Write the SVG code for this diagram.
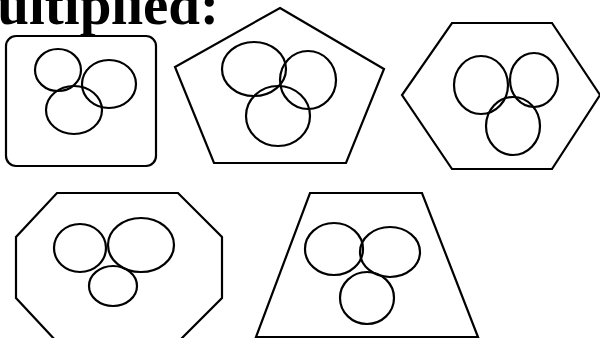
<svg xmlns="http://www.w3.org/2000/svg" width="600" height="338" viewBox="0 0 600 338">
<style>
.s{fill:none;stroke:#000;stroke-width:2.2}
.t{font-family:"Liberation Serif","Times New Roman",serif;font-weight:bold;font-size:57px;fill:#000}
</style>
<rect width="600" height="338" fill="#fff"/>
<text class="t" x="219" y="24" text-anchor="end">multiplied:</text>
<g id="rounded-rect">
<rect class="s" x="6" y="36" width="150" height="130" rx="10"/>
<ellipse class="s" cx="58" cy="70" rx="23" ry="21"/>
<ellipse class="s" cx="109" cy="84" rx="27" ry="24"/>
<ellipse class="s" cx="74" cy="110" rx="28" ry="24"/>
</g>
<g id="pentagon">
<polygon class="s" points="280,8 384,69 346,163 214,163 175,67"/>
<ellipse class="s" cx="254" cy="69" rx="32" ry="27"/>
<ellipse class="s" cx="308" cy="80" rx="28" ry="29"/>
<ellipse class="s" cx="278" cy="116" rx="32" ry="30"/>
</g>
<g id="hexagon">
<polygon class="s" points="452,23 552,23 600,95 552,169 452,169 402,95"/>
<ellipse class="s" cx="481" cy="85" rx="27" ry="29"/>
<ellipse class="s" cx="534" cy="80" rx="24" ry="27"/>
<ellipse class="s" cx="513" cy="126" rx="27" ry="29"/>
</g>
<g id="octagon">
<polygon class="s" points="57,193 178,193 222,237 222,298 178,342 57,342 16,298 16,237"/>
<ellipse class="s" cx="80" cy="248" rx="26" ry="24"/>
<ellipse class="s" cx="141" cy="245" rx="33" ry="27"/>
<ellipse class="s" cx="113" cy="286" rx="24" ry="20"/>
</g>
<g id="trapezoid">
<polygon class="s" points="310,193 422,193 478,337 256,337"/>
<ellipse class="s" cx="334" cy="249" rx="29" ry="26"/>
<ellipse class="s" cx="390" cy="252" rx="30" ry="25"/>
<ellipse class="s" cx="367" cy="298" rx="27" ry="26"/>
</g>
<g id="connectors"></g>
</svg>
